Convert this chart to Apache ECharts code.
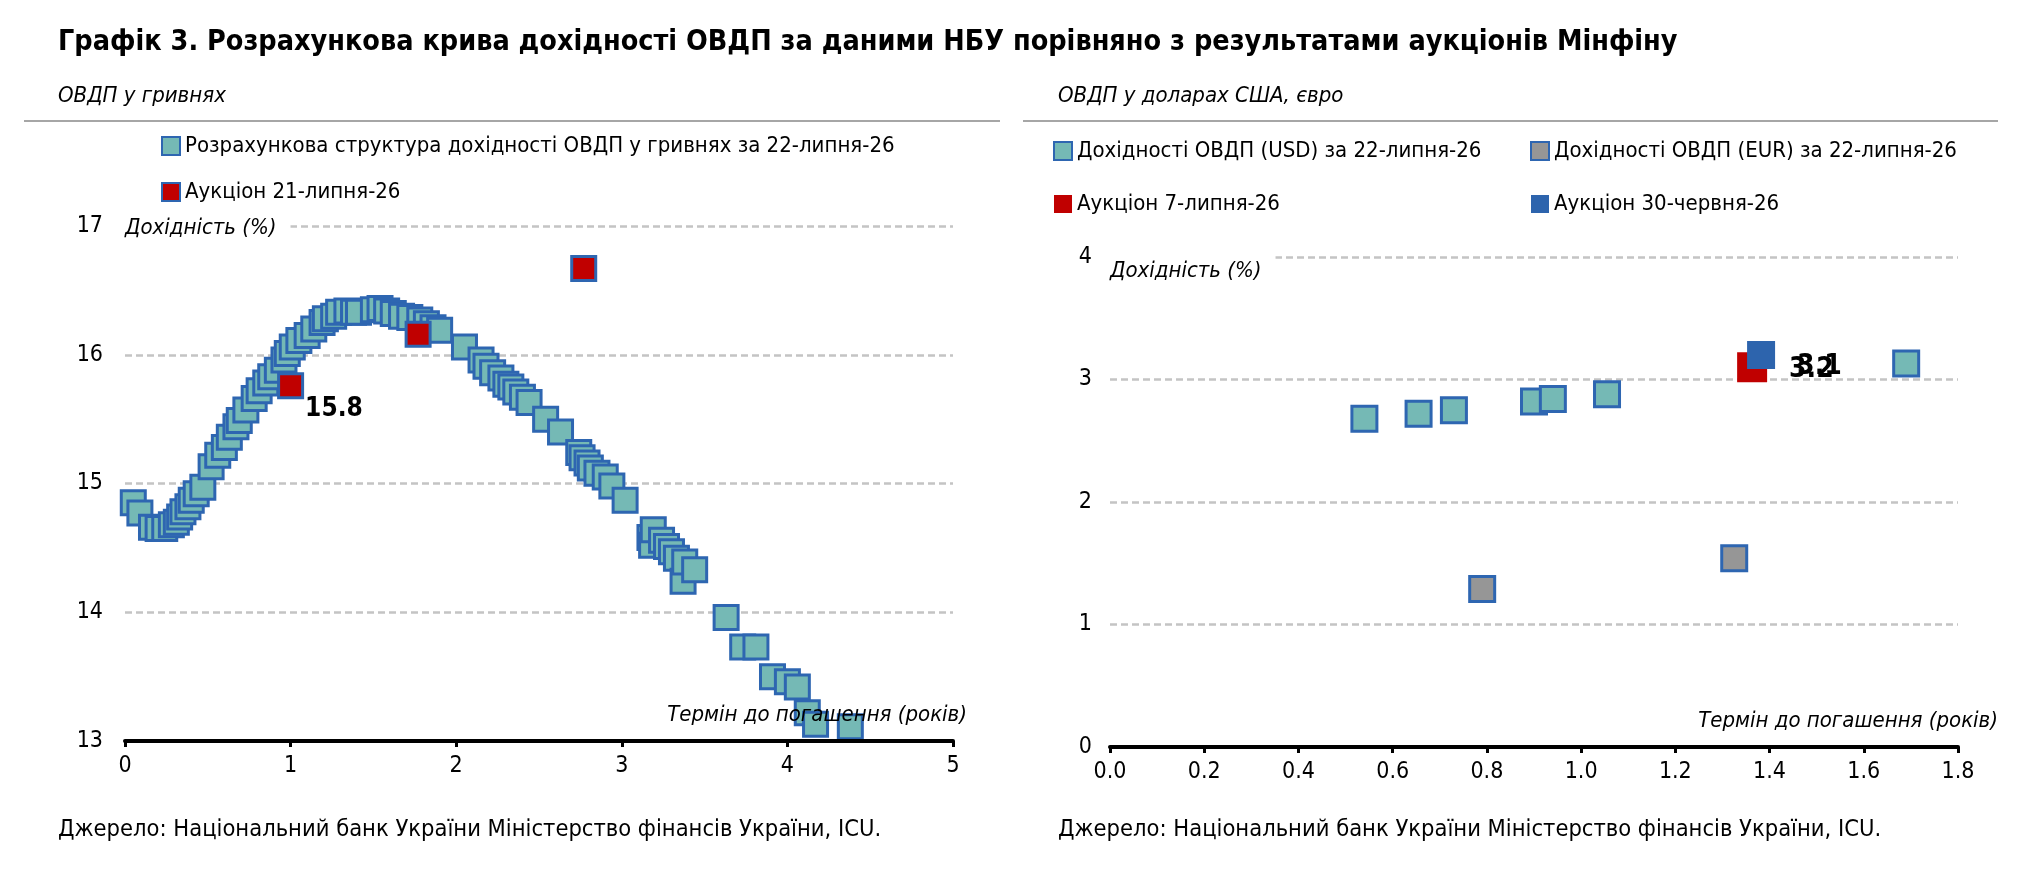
<!DOCTYPE html>
<html>
<head>
<meta charset="utf-8">
<script src="https://cdn.jsdelivr.net/npm/echarts@6/dist/echarts.min.js"></script>
<style>
  html, body { margin: 0; padding: 0; background: #fff; }
  #chart { width: 2022px; height: 871px; }
</style>
</head>
<body>
<div id="chart"></div>
<script>
var FONT = "'Liberation Sans Narrow', 'DejaVu Sans Condensed', 'Liberation Sans', sans-serif";

// ліва панель: розрахункова крива (термін, років / дохідність, %)
var curveTerm = [0.05, 0.09, 0.16, 0.20, 0.24, 0.28, 0.31, 0.33, 0.35, 0.38, 0.40, 0.43, 0.47, 0.52, 0.56,
  0.60, 0.63, 0.67, 0.69, 0.73, 0.78, 0.81, 0.85, 0.88, 0.92, 0.96, 0.98, 1.01, 1.05, 1.10,
  1.14, 1.19, 1.21, 1.26, 1.29, 1.34, 1.38, 1.41, 1.50, 1.54, 1.58, 1.62, 1.67, 1.72, 1.78,
  1.82, 1.86, 1.90, 2.05, 2.15, 2.18, 2.22, 2.27, 2.30, 2.33, 2.36, 2.40, 2.44, 2.54, 2.63,
  2.74, 2.76, 2.79, 2.81, 2.85, 2.90, 2.94, 3.02, 3.17, 3.18, 3.19, 3.24, 3.27, 3.30, 3.33,
  3.37, 3.38, 3.44, 3.63, 3.73, 3.81, 3.91, 4.00, 4.06, 4.12, 4.17, 4.38];
var curveYield = [14.85, 14.77, 14.66, 14.65, 14.65, 14.68, 14.70, 14.74, 14.78, 14.82, 14.87, 14.92, 14.97, 15.13, 15.22,
  15.28, 15.36, 15.44, 15.49, 15.57, 15.66, 15.72, 15.78, 15.83, 15.88, 15.96, 16.01, 16.06, 16.11, 16.15,
  16.20, 16.25, 16.28, 16.30, 16.33, 16.34, 16.33, 16.33, 16.35, 16.36, 16.34, 16.32, 16.30, 16.29, 16.27,
  16.24, 16.21, 16.19, 16.06, 15.96, 15.91, 15.86, 15.82, 15.77, 15.75, 15.71, 15.67, 15.63, 15.50, 15.40,
  15.24, 15.20, 15.16, 15.12, 15.08, 15.05, 14.98, 14.87, 14.58, 14.52, 14.64, 14.56, 14.51, 14.47, 14.42,
  14.24, 14.39, 14.33, 13.96, 13.73, 13.73, 13.50, 13.46, 13.42, 13.22, 13.13, 13.11];

var aucUahTerm = [1.00, 1.77, 2.77];
var aucUahYield = [15.76, 16.16, 16.67];
var aucUahLabel = ['15.8', '', ''];

// права панель: валютні ОВДП
var usdTerm = [0.54, 0.655, 0.73, 0.90, 0.94, 1.055, 1.69];
var usdYield = [2.68, 2.72, 2.75, 2.82, 2.84, 2.88, 3.13];
var eurTerm = [0.79, 1.325];
var eurYield = [1.29, 1.54];
var auc7Term = [1.363];
var auc7Yield = [3.10];
var auc30Term = [1.382];
var auc30Yield = [3.20];

var leftTicks = [13, 14, 15, 16, 17];
var rightTicks = [0, 1, 2, 3, 4];

var TEAL = '#75b9b5', BLUE_BORDER = '#2e66b1', RED = '#c00000', GREY = '#969696', BLUE = '#2d64ad';
var TXT = 22;

function pairs(xs, ys) {
  return xs.map(function (x, i) { return [x, ys[i]]; });
}

var chart = echarts.init(document.getElementById('chart'), null, { renderer: 'canvas' });

var axisLabelStyle = { color: '#000', fontSize: 23, fontFamily: FONT };
var gridLine = { show: true, lineStyle: { color: '#c4c4c4', width: 2.5, type: [7, 4] } };
var axisLine = { show: true, onZero: false, lineStyle: { color: '#000', width: 4 } };
var axisTick = { show: true, inside: false, length: 6, lineStyle: { color: '#000', width: 3 } };
var nameStyle = { fontSize: TXT, fontStyle: 'italic', color: '#000', fontFamily: FONT };

var option = {
  backgroundColor: '#fff',
  animation: false,
  textStyle: { fontFamily: FONT },
  title: [
    { text: 'Графік 3. Розрахункова крива дохідності ОВДП за даними НБУ порівняно з результатами аукціонів Мінфіну',
      left: 58, top: 28, padding: 0,
      textStyle: { fontSize: 28.5, fontWeight: 'bold', color: '#000', fontFamily: FONT } },
    { text: 'ОВДП у гривнях', left: 58, top: 85, padding: 0,
      textStyle: { fontSize: TXT, fontStyle: 'italic', fontWeight: 'normal', color: '#000', fontFamily: FONT } },
    { text: 'ОВДП у доларах США, євро', left: 1058, top: 85, padding: 0,
      textStyle: { fontSize: TXT, fontStyle: 'italic', fontWeight: 'normal', color: '#000', fontFamily: FONT } },
    { text: 'Джерело: Національний банк України Міністерство фінансів України, ICU.', left: 58, top: 818, padding: 0,
      textStyle: { fontSize: 23.5, fontWeight: 'normal', color: '#000', fontFamily: FONT } },
    { text: 'Джерело: Національний банк України Міністерство фінансів України, ICU.', left: 1058, top: 818, padding: 0,
      textStyle: { fontSize: 23.5, fontWeight: 'normal', color: '#000', fontFamily: FONT } }
  ],
  graphic: [
    { type: 'line', shape: { x1: 24, y1: 121, x2: 1000, y2: 121 }, style: { stroke: '#a6a6a6', lineWidth: 2 } },
    { type: 'line', shape: { x1: 1023, y1: 121, x2: 1998, y2: 121 }, style: { stroke: '#a6a6a6', lineWidth: 2 } }
  ],
  legend: [
    { orient: 'vertical', left: 161, top: 133, itemWidth: 18, itemHeight: 18, itemGap: 20, padding: 0,
      icon: 'rect',
      textStyle: { fontSize: TXT, color: '#000', fontFamily: FONT, lineHeight: 26 },
      data: ['Розрахункова структура дохідності ОВДП у гривнях за 22-липня-26', 'Аукціон 21-липня-26'] },
    { orient: 'vertical', left: 1053, top: 138, itemWidth: 18, itemHeight: 18, itemGap: 27, padding: 0,
      icon: 'rect',
      textStyle: { fontSize: TXT, color: '#000', fontFamily: FONT, lineHeight: 26 },
      data: ['Дохідності ОВДП (USD) за 22-липня-26', 'Аукціон 7-липня-26'] },
    { orient: 'vertical', left: 1530, top: 138, itemWidth: 18, itemHeight: 18, itemGap: 27, padding: 0,
      icon: 'rect',
      textStyle: { fontSize: TXT, color: '#000', fontFamily: FONT, lineHeight: 26 },
      data: ['Дохідності ОВДП (EUR) за 22-липня-26', 'Аукціон 30-червня-26'] }
  ],
  grid: [
    { left: 125, right: 1069, top: 226, bottom: 130 },
    { left: 1110, right: 64, top: 257, bottom: 124 }
  ],
  xAxis: [
    { gridIndex: 0, type: 'value', min: 0, max: 5, interval: 1, z: 5,
      axisLine: axisLine, axisTick: axisTick, splitLine: { show: false },
      axisLabel: Object.assign({ margin: 14 }, axisLabelStyle),
      name: 'Термін до погашення (років)', nameLocation: 'end', nameGap: 14,
      nameTextStyle: Object.assign({ align: 'right', verticalAlign: 'bottom', padding: [0, 0, 15, 0] }, nameStyle) },
    { gridIndex: 1, type: 'value', min: 0, max: 1.8, interval: 0.2, z: 5,
      axisLine: axisLine, axisTick: axisTick, splitLine: { show: false },
      axisLabel: Object.assign({ margin: 14, formatter: function (v) { return v.toFixed(1); } }, axisLabelStyle),
      name: 'Термін до погашення (років)', nameLocation: 'end', nameGap: 40,
      nameTextStyle: Object.assign({ align: 'right', verticalAlign: 'bottom', padding: [0, 0, 15, 0] }, nameStyle) }
  ],
  yAxis: [
    { gridIndex: 0, type: 'value', min: leftTicks[0], max: leftTicks[leftTicks.length - 1], interval: 1,
      axisLine: { show: false }, axisTick: { show: false }, splitLine: gridLine,
      axisLabel: Object.assign({ margin: 22 }, axisLabelStyle),
      name: 'Дохідність (%)', nameLocation: 'end', nameGap: -2,
      nameTextStyle: Object.assign({ align: 'left', verticalAlign: 'middle', backgroundColor: '#fff',
        padding: [2, 14, 2, 0] }, nameStyle) },
    { gridIndex: 1, type: 'value', min: rightTicks[0], max: rightTicks[rightTicks.length - 1], interval: 1,
      axisLine: { show: false }, axisTick: { show: false }, splitLine: gridLine,
      axisLabel: Object.assign({ margin: 18 }, axisLabelStyle),
      name: 'Дохідність (%)', nameLocation: 'end', nameGap: -14,
      nameTextStyle: Object.assign({ align: 'left', verticalAlign: 'middle', backgroundColor: '#fff',
        padding: [16, 14, 2, 0] }, nameStyle) }
  ],
  series: [
    { name: 'Розрахункова структура дохідності ОВДП у гривнях за 22-липня-26', type: 'scatter',
      xAxisIndex: 0, yAxisIndex: 0, symbol: 'rect', symbolSize: 24,
      itemStyle: { color: TEAL, borderColor: BLUE_BORDER, borderWidth: 3, opacity: 1 },
      data: pairs(curveTerm, curveYield) },
    { name: 'Аукціон 21-липня-26', type: 'scatter', xAxisIndex: 0, yAxisIndex: 0, z: 3,
      symbol: 'rect', symbolSize: 24,
      itemStyle: { color: RED, borderColor: BLUE_BORDER, borderWidth: 3, opacity: 1 },
      label: { show: true, position: 'right', distance: 1, offset: [0, 24],
        fontSize: 26, fontWeight: 'bold', color: '#000', fontFamily: FONT,
        formatter: function (p) { return aucUahLabel[p.dataIndex]; } },
      data: pairs(aucUahTerm, aucUahYield) },
    { name: 'Дохідності ОВДП (USD) за 22-липня-26', type: 'scatter', xAxisIndex: 1, yAxisIndex: 1,
      symbol: 'rect', symbolSize: 25,
      itemStyle: { color: TEAL, borderColor: BLUE_BORDER, borderWidth: 3, opacity: 1 },
      data: pairs(usdTerm, usdYield) },
    { name: 'Дохідності ОВДП (EUR) за 22-липня-26', type: 'scatter', xAxisIndex: 1, yAxisIndex: 1,
      symbol: 'rect', symbolSize: 25,
      itemStyle: { color: GREY, borderColor: BLUE_BORDER, borderWidth: 3, opacity: 1 },
      data: pairs(eurTerm, eurYield) },
    { name: 'Аукціон 7-липня-26', type: 'scatter', xAxisIndex: 1, yAxisIndex: 1,
      symbol: 'rect', symbolSize: 30,
      itemStyle: { color: RED, opacity: 1 },
      label: { show: true, position: 'right', distance: 30, offset: [0, -1],
        fontSize: 28, fontWeight: 'bold', color: '#000', fontFamily: FONT,
        formatter: function (p) { return p.value[1].toFixed(1); } },
      data: pairs(auc7Term, auc7Yield) },
    { name: 'Аукціон 30-червня-26', type: 'scatter', xAxisIndex: 1, yAxisIndex: 1,
      symbol: 'rect', symbolSize: 28,
      itemStyle: { color: BLUE, opacity: 1 },
      label: { show: true, position: 'right', distance: 14, offset: [0, 15],
        fontSize: 28, fontWeight: 'bold', color: '#000', fontFamily: FONT,
        formatter: function (p) { return p.value[1].toFixed(1); } },
      data: pairs(auc30Term, auc30Yield) }
  ]
};

chart.setOption(option);
window.addEventListener('resize', chart.resize);
</script>
</body>
</html>
